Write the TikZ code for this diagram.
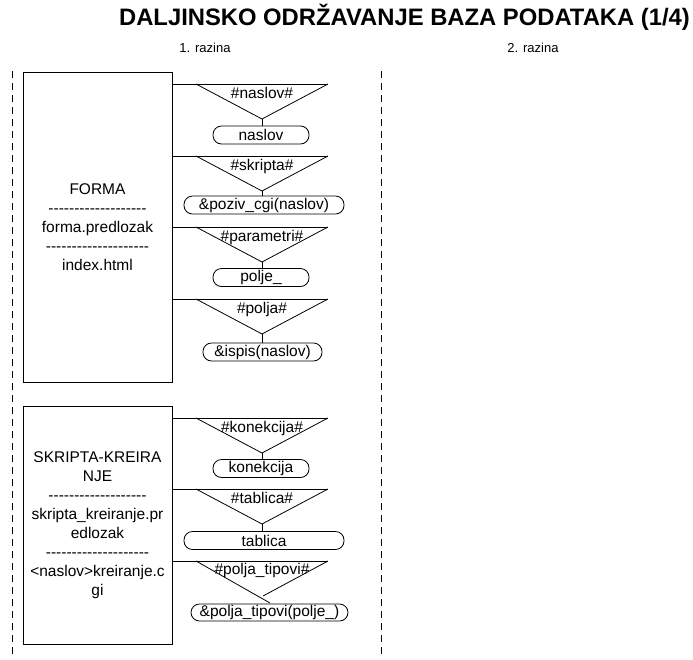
\documentclass[tikz,border=0pt]{standalone}
\usepackage{fontspec}
\newfontfamily\pismo{Liberation Sans}
\usetikzlibrary{positioning}

\begin{document}
\begin{tikzpicture}[
    x=1pt, y=-1pt,
    modul/.style={
      draw,
      line width=1pt,
      minimum width=149pt,
      align=center,
      inner sep=0pt,
      font=\pismo\fontsize{15.5}{19}\selectfont
    },
    kapsula/.style={
      draw,
      line width=0.8pt,
      rounded corners=8.5pt,
      minimum height=18pt,
      inner sep=0pt,
      font=\pismo\fontsize{15.5}{18}\selectfont
    },
    oznaka/.style={
      anchor=base,
      inner sep=0pt,
      font=\pismo\fontsize{15.5}{18}\selectfont
    },
    veza/.style={
      line width=0.8pt
    },
    razina/.style={
      line width=0.8pt,
      dash pattern=on 7pt off 5pt
    }
  ]
  \useasboundingbox (0,0) rectangle (693,659);

  % Title and levels
  \node[anchor=base,font=\pismo\bfseries\fontsize{23.8}{27}\selectfont] (naslov) at (404.5,25)
    {DALJINSKO ODRŽAVANJE BAZA PODATAKA (1/4)};
  \node[anchor=base,font=\pismo\fontsize{13}{15}\selectfont] (raz1) at (205,52) {1. razina};
  \node[anchor=base,font=\pismo\fontsize{13}{15}\selectfont] (raz2) at (533,52) {2. razina};

  % Level separators
  \coordinate (l1t) at (12,71);
  \coordinate (l1b) at (12,657);
  \coordinate (l2t) at (381,71);
  \coordinate (l2b) at (381,657);
  \draw[razina] (l1t) -- (l1b);
  \draw[razina] (l2t) -- (l2b);

  % Modules
  \node[modul, minimum height=310pt] (forma) at (97.5,227)
    {FORMA\\-------------------\\forma.predlozak\\--------------------\\index.html};
  \node[modul, minimum height=238pt] (skripta) at (97.5,525)
    {SKRIPTA-KREIRA\\NJE\\-------------------\\skripta\_kreiranje.pr\\edlozak\\--------------------\\<naslov>kreiranje.c\\gi};

  % Funnels and their values
  \foreach \i/\m/\yt/\cx/\cy/\w/\lab/\txt in {
      1/forma/84/261/135/96/{\#naslov\#}/{naslov},
      2/forma/156/264/205/160/{\#skripta\#}/{\&poziv\_cgi(naslov)},
      3/forma/227/261/277.5/96/{\#parametri\#}/{polje\_},
      4/forma/299/262.5/352/119/{\#polja\#}/{\&ispis(naslov)},
      5/skripta/418/261/468.5/96/{\#konekcija\#}/{konekcija},
      6/skripta/489/264/540.5/160/{\#tablica\#}/{tablica}} {
    \coordinate (tl\i) at (196,\yt);
    \coordinate (tr\i) at (328,\yt);
    \coordinate (tv\i) at (262,\yt+35);
    \draw[veza] (\m.east |- tr\i) -- (tr\i);
    \draw[veza] (tl\i) -- (tv\i) -- (tr\i);
    \node[oznaka] (o\i) at (262,\yt+14) {\lab};
    \node[kapsula, minimum width=\w pt] (k\i) at (\cx,\cy) {\txt};
    \draw[veza] (tv\i) -- (k\i.north -| tv\i);
  }

  % Last funnel, sides drawn crooked
  \coordinate (tl7) at (196,561);
  \coordinate (tr7) at (328,561);
  \coordinate (tv7a) at (270,603);
  \coordinate (tv7b) at (263,596);
  \draw[veza] (skripta.east |- tr7) -- (tr7);
  \draw[veza] (tl7) -- (tv7a);
  \draw[veza] (tr7) -- (tv7b);
  \node[oznaka] (o7) at (262,574) {\#polja\_tipovi\#};
  \node[kapsula, minimum width=157pt, minimum height=17pt] (k7) at (269.5,612.5)
    {\&polja\_tipovi(polje\_)};

\end{tikzpicture}
\end{document}
